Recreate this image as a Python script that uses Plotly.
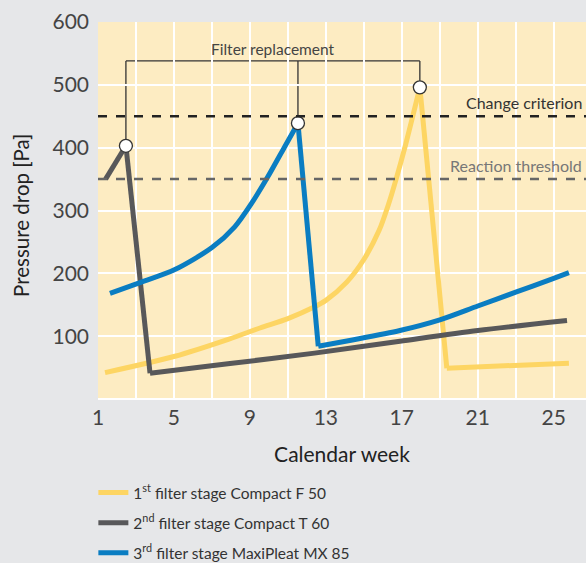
import plotly.graph_objects as go

# ---- data ----
stage1_name = "1<sup>st</sup> filter stage Compact F 50"
stage1_week = [1.37, 5.05, 7.86, 9.53, 11.0, 12.35, 13.0, 14.1, 15.0, 15.8, 16.3, 16.7, 17.2, 17.95, 19.37, 25.8]
stage1_pa   = [42,   68,   95,   113,  128,  146,   157,  186,  222,  268,  310,  350,  405,  496,   49,    57]

stage2_name = "2<sup>nd</sup> filter stage Compact T 60"
stage2_week = [1.4, 2.47, 3.74, 7.84, 12.4, 16.9, 21.0, 25.7]
stage2_pa   = [350, 403,  41,   56,   73,   92,   109,  125]

stage3_name = "3<sup>rd</sup> filter stage MaxiPleat MX 85"
stage3_week = [1.63, 3.1, 5.05, 7.0, 8.2, 9.1, 9.95, 10.84, 11.53, 12.6, 14.4, 16.9, 19.0, 21.0, 23.0, 25.0, 25.8]
stage3_pa   = [168,  184, 206,  241, 274, 312, 354,  402,   439,   84,   94,   109,  126,  148,  170,  192,  201]

change_criterion = 450
reaction_threshold = 350
bracket_level = 538

x_ticks = [1, 5, 9, 13, 17, 21, 25]
y_ticks = [100, 200, 300, 400, 500, 600]

# ---- style ----
YELLOW = "#fdd563"
GREY = "#58585a"
BLUE = "#0a7dc2"
FONT = "Lato"

fig = go.Figure()
series = [
    (stage1_name, stage1_week, stage1_pa, YELLOW),
    (stage2_name, stage2_week, stage2_pa, GREY),
    (stage3_name, stage3_week, stage3_pa, BLUE),
]
for name, xs, ys, col in series:
    p = ys.index(max(ys))      # filter replaced at the peak
    b = p + 1                  # clean filter right after
    segs = [(0, p + 1, "spline"), (p, b + 1, "linear"), (b, len(xs), "spline")]
    first = True
    for s, e, shape in segs:
        if e - s < 2:
            continue
        fig.add_trace(go.Scatter(
            x=xs[s:e], y=ys[s:e], mode="lines", name=name, legendgroup=name,
            showlegend=first, hoverinfo="skip",
            line=dict(color=col, width=5, shape=shape, smoothing=0.8 if shape == "spline" else None)))
        first = False

# replacement peaks
peaks = []
for xs, ys in [(stage2_week, stage2_pa), (stage3_week, stage3_pa), (stage1_week, stage1_pa)]:
    i = ys.index(max(ys))
    peaks.append((xs[i], ys[i]))
peak_x = [p[0] for p in peaks]
peak_y = [p[1] for p in peaks]

# bracket connecting peaks (drawn beneath the markers)
for px, py in peaks:
    fig.add_shape(type="line", x0=px, x1=px, y0=py, y1=bracket_level, xref="x", yref="y",
                  line=dict(color="#333333", width=1.3), layer="below")
fig.add_shape(type="line", x0=min(peak_x), x1=max(peak_x), y0=bracket_level, y1=bracket_level,
              xref="x", yref="y", line=dict(color="#333333", width=1.3), layer="below")

fig.add_trace(go.Scatter(x=peak_x, y=peak_y, mode="markers", showlegend=False, hoverinfo="skip",
                         marker=dict(size=13, color="white", line=dict(color="#333333", width=1.3))))

# threshold lines
fig.add_shape(type="line", xref="paper", x0=0, x1=1, yref="y", y0=change_criterion, y1=change_criterion,
              line=dict(color="#222222", width=2.5, dash="dash"))
fig.add_shape(type="line", xref="paper", x0=0, x1=1, yref="y", y0=reaction_threshold, y1=reaction_threshold,
              line=dict(color="#666666", width=2.5, dash="dash"))

fig.add_annotation(text="Change criterion", xref="paper", x=0.995, xanchor="right", yref="y",
                   y=change_criterion, yanchor="bottom", yshift=2, showarrow=False,
                   font=dict(family=FONT, size=16, color="#333333"))
fig.add_annotation(text="Reaction threshold", xref="paper", x=0.995, xanchor="right", yref="y",
                   y=reaction_threshold, yanchor="bottom", yshift=2, showarrow=False,
                   font=dict(family=FONT, size=16, color="#777777"))
fig.add_annotation(text="Filter replacement", x=(min(peak_x) + max(peak_x)) / 2, y=bracket_level,
                   yanchor="bottom", yshift=1, showarrow=False,
                   font=dict(family=FONT, size=15.5, color="#444444"))

# y-axis title
fig.add_annotation(text="Pressure drop [Pa]", xref="paper", x=-0.158, xanchor="center",
                   yref="paper", y=0.488, yanchor="middle", textangle=-90, showarrow=False,
                   font=dict(family=FONT, size=20.5, color="#222222"))

fig.update_layout(
    width=586, height=563,
    margin=dict(l=98, r=0, t=22, b=164, autoexpand=False),
    paper_bgcolor="#e6e7e9", plot_bgcolor="#fdecc2",
    font=dict(family=FONT, color="#333333"),
    showlegend=True,
    legend=dict(x=-0.0095, xanchor="left", y=-0.204, yanchor="top", bgcolor="rgba(0,0,0,0)",
                font=dict(family=FONT, size=15.5, color="#333333"), tracegroupgap=7),
    xaxis=dict(range=[1, 26.7], tickvals=x_ticks, showgrid=True, gridcolor="white", gridwidth=1.5,
               minor=dict(tick0=1, dtick=2, showgrid=True, gridcolor="white", gridwidth=1.5),
               zeroline=False, showline=False, ticks="", ticklabelstandoff=4, automargin=False,
               tickfont=dict(family=FONT, size=21, color="#444444"),
               title=dict(text="Calendar week", font=dict(family=FONT, size=21, color="#222222"), standoff=19)),
    yaxis=dict(range=[0, 600], tickvals=y_ticks, showgrid=True, gridcolor="white", gridwidth=1.5,
               zeroline=True, zerolinecolor="white", zerolinewidth=1.5, showline=False, ticks="",
               ticklabelstandoff=8, automargin=False,
               tickfont=dict(family=FONT, size=21, color="#444444")),
)

fig.write_html("out.html", config={"displayModeBar": False},
               post_script="document.body.style.margin='0';document.body.style.overflow='hidden';")
